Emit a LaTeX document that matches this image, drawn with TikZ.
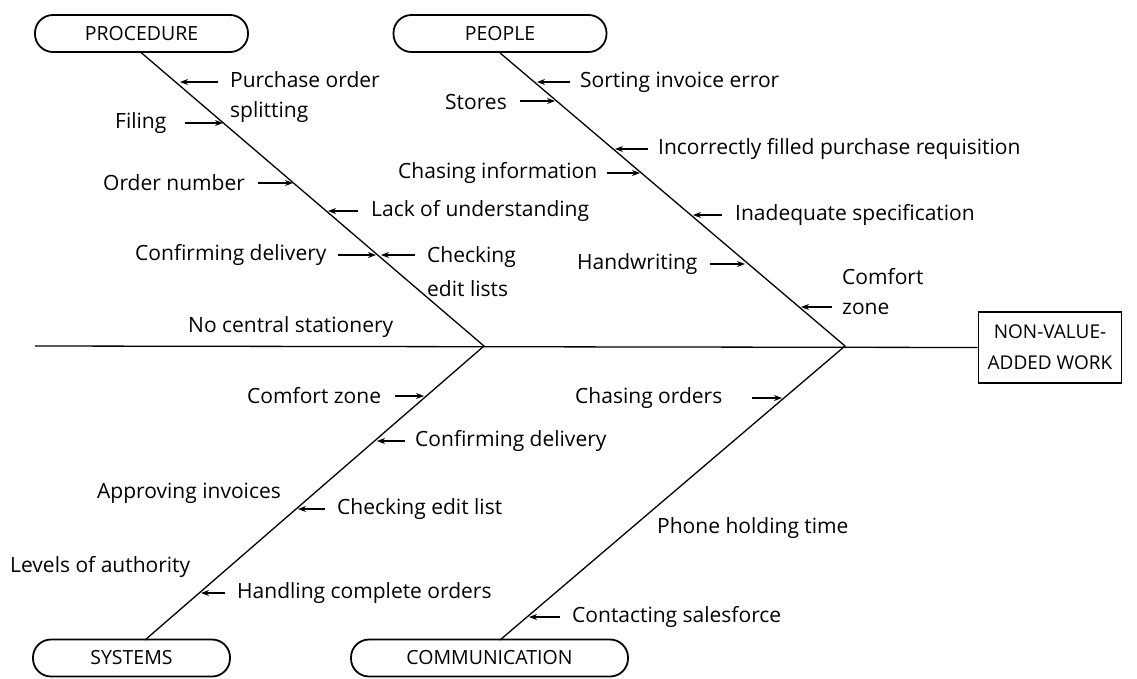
\documentclass[tikz,border=0pt]{standalone}
\usepackage{fontspec}
\setmainfont{Open Sans}
\usetikzlibrary{arrows.meta,calc}
\begin{document}
\begin{tikzpicture}[x=1pt,y=-1pt,
  lbl/.style={inner sep=0pt,anchor=west,align=left,font=\fontsize{21}{30}\selectfont},
  catbox/.style={draw,line width=1.8pt,rounded corners=18pt,minimum height=37pt,inner sep=0pt,font=\fontsize{19.5}{22}\selectfont},
  bone/.style={line width=1.3pt},
  arr/.style={line width=1.1pt,-{Stealth[length=8pt,width=6pt]}}]
\useasboundingbox (0,0) rectangle (1137,678);
% category boxes
\node[catbox,minimum width=213pt] (proc) at (141.5,33.5) {PROCEDURE};
\node[catbox,minimum width=213pt] (people) at (500,33.5) {PEOPLE};
\node[catbox,minimum width=197pt] (sys) at (131.5,658) {SYSTEMS};
\node[catbox,minimum width=277pt] (comm) at (489.5,658) {COMMUNICATION};
\node[draw,line width=1.8pt,minimum width=143pt,minimum height=71pt,inner sep=0pt,align=center,font=\fontsize{19}{31}\selectfont] (eff) at (1050,347.5) {NON-VALUE-\\ADDED WORK};
% junctions
\coordinate (J1) at (484,346);
\coordinate (J2) at (845,346);
\coordinate (S0) at (35,346);
\coordinate (sysT) at (145,640);
\coordinate (commT) at (500,640);
% spine and bones
\draw[bone] (S0) -- (eff.west);
\draw[bone] (proc.south) -- (J1) -- (sysT);
\draw[bone] (people.south) -- (J2) -- (commT);
% PROCEDURE labels
\node[lbl] (p1) at (230,97) {Purchase order\\splitting};
\node[lbl] (p2) at (115,123) {Filing};
\node[lbl] (p3) at (103,183) {Order number};
\node[lbl] (p4) at (371,211) {Lack of understanding};
\node[lbl] (p5) at (135,255) {Confirming delivery};
\node[lbl,font=\fontsize{21}{34}\selectfont] (p6) at (427,272) {Checking\\edit lists};
\node[lbl] (p7) at (188,327) {No central stationery};
\coordinate (b1) at (180,82);
\coordinate (b2) at (223,123);
\coordinate (b3) at (293,183);
\coordinate (b4) at (328,211);
\coordinate (b5) at (376,255);
\coordinate (b6) at (381,255);
\draw[arr] (218,82) -- (b1);
\draw[arr] (185,123) -- (b2);
\draw[arr] (258,183) -- (b3);
\draw[arr] (358,211) -- (b4);
\draw[arr] (338,255) -- (b5);
\draw[arr] (415,255) -- (b6);
% PEOPLE labels
\node[lbl] (q1) at (580,82) {Sorting invoice error};
\node[lbl] (q2) at (445,102) {Stores};
\node[lbl] (q3) at (658,149) {Incorrectly filled purchase requisition};
\node[lbl] (q4) at (398,173) {Chasing information};
\node[lbl] (q5) at (735,215) {Inadequate specification};
\node[lbl] (q6) at (577,264) {Handwriting};
\node[lbl] (q7) at (842,292) {Comfort\\zone};
\coordinate (c1) at (537,82);
\coordinate (c2) at (555,101);
\coordinate (c3) at (615,149);
\coordinate (c4) at (640,173);
\coordinate (c5) at (693,215);
\coordinate (c6) at (745,264);
\coordinate (c7) at (801,307);
\draw[arr] (570,82) -- (c1);
\draw[arr] (520,101) -- (c2);
\draw[arr] (648,149) -- (c3);
\draw[arr] (607,173) -- (c4);
\draw[arr] (722,215) -- (c5);
\draw[arr] (710,264) -- (c6);
\draw[arr] (832,307) -- (c7);
% SYSTEMS labels
\node[lbl] (s1) at (247,396) {Comfort zone};
\node[lbl] (s2) at (415,441) {Confirming delivery};
\node[lbl] (s3) at (97,493) {Approving invoices};
\node[lbl] (s4) at (337,509) {Checking edit list};
\node[lbl] (s5) at (10,567) {Levels of authority};
\node[lbl] (s6) at (237,593) {Handling complete orders};
\coordinate (d1) at (424,396);
\coordinate (d2) at (377,441);
\coordinate (d4) at (298,509);
\coordinate (d6) at (201,593);
\draw[arr] (395,396) -- (d1);
\draw[arr] (405,441) -- (d2);
\draw[arr] (325,509) -- (d4);
\draw[arr] (225,593) -- (d6);
% COMMUNICATION labels
\node[lbl] (t1) at (575,398) {Chasing orders};
\node[lbl] (t2) at (657,528) {Phone holding time};
\node[lbl] (t3) at (572,617) {Contacting salesforce};
\coordinate (e1) at (782,398);
\coordinate (e3) at (529,617);
\draw[arr] (752,398) -- (e1);
\draw[arr] (560,617) -- (e3);
\end{tikzpicture}
\end{document}
